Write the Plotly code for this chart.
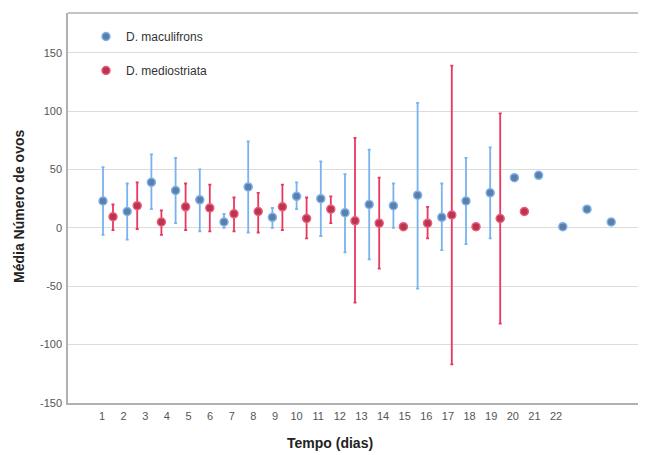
import plotly.graph_objects as go

days = list(range(1, 23))
tick_labels = [str(d) for d in days]
y_ticks = [-150, -100, -50, 0, 50, 100, 150]
y_tick_labels = ["-150", "-100", "-50", "0", "50", "100", "150"]

# D. maculifrons (blue) : mean, upper CI, lower CI
mac_days = list(range(1, 23))
mac_mean = [23, 14, 39, 32, 24, 5, 35, 9, 27, 25, 13, 20, 19, 28, 9, 23, 30, 43, 45, 1, 16, 5]
mac_upper = [52, 38, 63, 60, 50, 12, 74, 17, 39, 57, 46, 67, 38, 107, 38, 60, 69, 43, 45, 1, 16, 5]
mac_lower = [-6, -10, 16, 4, -3, 0, -4, 0, 16, -7, -21, -27, 0, -52, -19, -14, -9, 43, 45, 1, 16, 5]

# D. mediostriata (red)
med_days = list(range(1, 19))
med_mean = [9.5, 19, 5, 18, 17, 12, 14, 18, 8, 16, 6, 4, 1, 4, 11, 1, 8, 14]
med_upper = [20, 39, 15, 38, 37, 26, 30, 37, 26, 27, 77, 43, 1, 18, 139, 1, 98, 14]
med_lower = [-2, -1, -6, -2, -3, -3, -4, -2, -9, 4, -64, -35, 1, -9, -117, 1, -82, 14]

# geometry in window pixels (page body has an 8px margin)
OFF = 8
WIN_W, WIN_H = 646, 455
W, H = WIN_W, WIN_H - OFF
L_PX, T_PX, B_PX = 68, 13, 403
R_PX = OFF + W
ML, MR, MT, MB = L_PX - OFF, 0, T_PX - OFF, OFF + H - B_PX
PW, PH = R_PX - L_PX, B_PX - T_PX

pt_step = 24.2      # px between day clusters
tick_step = 21.62   # px between tick labels
first_center = 108  # px of day-1 cluster centre
first_tick = 102    # px of tick label "1"
offset = 5 / pt_step

x_lo = 1 + (L_PX - first_center) / pt_step
x_hi = 1 + (R_PX - first_center) / pt_step
tickvals = [1 + (first_tick + tick_step * (d - 1) - first_center) / pt_step for d in days]

def px_x(px):
    return (px - L_PX) / PW

def px_y(py):
    return (B_PX - py) / PH

blue_fill = "#5d7ea6"
blue_line = "#79b2ee"
blue_err = "#78b3f0"
red_fill = "#b8344f"
red_line = "#ee5a7c"
red_err = "#e8385f"

fig = go.Figure()
fig.add_trace(go.Scatter(
    x=[d - offset for d in mac_days], y=mac_mean, mode="markers",
    name="D. maculifrons", legendgroup="a",
    marker=dict(size=8, color=blue_fill, line=dict(color=blue_line, width=1.5)),
    error_y=dict(type="data", symmetric=False,
                 array=[u - m for u, m in zip(mac_upper, mac_mean)],
                 arrayminus=[m - l for m, l in zip(mac_mean, mac_lower)],
                 color=blue_err, thickness=1.8, width=1.5),
))
fig.add_trace(go.Scatter(
    x=[d + offset for d in med_days], y=med_mean, mode="markers",
    name="D. mediostriata", legendgroup="b",
    marker=dict(size=8, color=red_fill, line=dict(color=red_line, width=1.5)),
    error_y=dict(type="data", symmetric=False,
                 array=[u - m for u, m in zip(med_upper, med_mean)],
                 arrayminus=[m - l for m, l in zip(med_mean, med_lower)],
                 color=red_err, thickness=1.8, width=1.5),
))

fig.update_layout(
    width=W, height=H,
    margin=dict(l=ML, r=MR, t=MT, b=MB, autoexpand=False),
    paper_bgcolor="white", plot_bgcolor="white",
    font=dict(family="Arial, Liberation Sans, sans-serif", color="#444", size=11),
    showlegend=True,
    legend=dict(x=px_x(86), y=px_y(22), xanchor="left", yanchor="top",
                bgcolor="rgba(0,0,0,0)", font=dict(size=12, color="#333"),
                tracegroupgap=15),
    xaxis=dict(range=[x_lo, x_hi], tickvals=tickvals, ticktext=tick_labels,
               showgrid=False, zeroline=False, showline=True, linecolor="#b0b0b0",
               linewidth=1.5, mirror=False, ticks="", ticklabelstandoff=2,
               tickfont=dict(size=11, color="#555"), automargin=False),
    yaxis=dict(range=[-150, 184], tickvals=y_ticks, ticktext=y_tick_labels,
               showgrid=True, gridcolor="#dcdcdc", gridwidth=1.2,
               zeroline=True, zerolinecolor="#dcdcdc", zerolinewidth=1.2,
               showline=True, linecolor="#b0b0b0", linewidth=1.5,
               ticks="", ticklabelstandoff=2, tickfont=dict(size=11, color="#555"),
               automargin=False),
    shapes=[dict(type="line", xref="paper", yref="paper", x0=0, x1=1, y0=1, y1=1,
                 line=dict(color="#b0b0b0", width=1.5))],
    annotations=[
        dict(text="<b>Tempo (dias)</b>", xref="paper", yref="paper",
             x=px_x(330), y=px_y(443),
             xanchor="center", yanchor="middle", showarrow=False,
             font=dict(size=14, color="#222")),
        dict(text="<b>Média Número de ovos</b>", xref="paper", yref="paper",
             x=px_x(19), y=px_y(207),
             xanchor="center", yanchor="middle", textangle=-90, showarrow=False,
             font=dict(size=14, color="#222")),
    ],
)

fig.write_html("out.html")
